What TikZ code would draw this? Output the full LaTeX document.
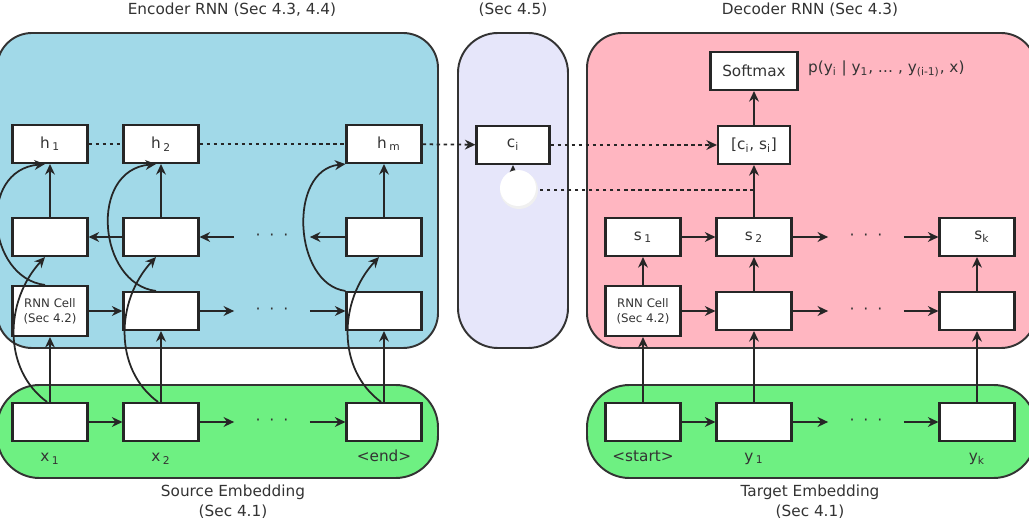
\documentclass[tikz,border=0pt]{standalone}
\usepackage{fontspec}
\setmainfont{DejaVu Sans}
\usetikzlibrary{arrows.meta}
\definecolor{encblue}{RGB}{161,217,232}
\definecolor{attlav}{RGB}{230,230,250}
\definecolor{decpink}{RGB}{255,182,193}
\definecolor{embgreen}{RGB}{110,240,130}
\tikzset{
  cell/.style={draw=black!85, line width=1.2pt, fill=white, minimum width=1.5cm,
    minimum height=0.76cm, inner sep=1pt, text=black!80, font=\fontsize{8.7}{10}\selectfont},
  rnncell/.style={cell, minimum height=1cm, align=center, font=\fontsize{6.7}{8.5}\selectfont},
  dots/.style={minimum width=1.5cm, inner sep=0pt, text=black!80, font=\fontsize{9}{10}\selectfont},
  lbl/.style={inner sep=1pt, text=black!80, font=\fontsize{8.7}{11.3}\selectfont, align=center},
  flow/.style={-{Stealth[length=6pt,width=5.6pt]}, line width=1pt, draw=black!85},
  att/.style={dash pattern=on 2pt off 2pt},
  region/.style={draw=black!80, line width=1.1pt, rounded corners=0.7cm},
}
\newcommand{\threedots}{\textperiodcentered\hspace{5pt}\textperiodcentered\hspace{5pt}\textperiodcentered}
\begin{document}
\begin{tikzpicture}[x=0.02cm,y=-0.02cm]
  \useasboundingbox (0,0) rectangle (1029,523);
  \clip (0,0) rectangle (1029,523);
  \fill[white] (0,0) rectangle (1029,523);
  % regions
  \draw[region,fill=encblue] (-3,33) rectangle (438,348);
  \draw[region,fill=attlav,rounded corners=0.8cm] (458,33) rectangle (568,348);
  \draw[region,fill=decpink] (587,33) rectangle (1036,348);
  \draw[region,fill=embgreen,rounded corners=0.85cm] (-3,385) rectangle (438,478);
  \draw[region,fill=embgreen,rounded corners=0.85cm] (587,385) rectangle (1036,478);
  % titles
  \node[lbl] (enctitle) at (232,10) {Encoder RNN (Sec 4.3, 4.4)};
  \node[lbl] (atttitle) at (513,10) {(Sec 4.5)};
  \node[lbl] (dectitle) at (810,10) {Decoder RNN (Sec 4.3)};
  \node[lbl] (srctitle) at (233,502) {Source Embedding\\(Sec 4.1)};
  \node[lbl] (tgttitle) at (810,502) {Target Embedding\\(Sec 4.1)};

  % encoder
  \node[cell] (h1) at (50,144) {h\,\textsubscript{1}};
  \node[cell] (h2) at (161,144) {h\,\textsubscript{2}};
  \node[cell] (hm) at (384,144) {\ \ h\,\textsubscript{m}};
  \node[cell] (b1) at (50,237) {};
  \node[cell] (b2) at (161,237) {};
  \node[cell] (b3) at (384,237) {};
  \node[dots] (bdots) at (272,237) {\threedots};
  \node[rnncell] (f1) at (50,311) {RNN Cell\\(Sec 4.2)};
  \node[cell] (f2) at (161,311) {};
  \node[cell] (f3) at (384,311) {};
  \node[dots] (fdots) at (272,311) {\threedots};
  \node[cell] (x1) at (50,422) {};
  \node[cell] (x2) at (161,422) {};
  \node[cell] (x3) at (384,422) {};
  \node[dots] (xdots) at (272,422) {\threedots};
  \node[lbl] (x1l) at (50,459) {x\,\textsubscript{1}};
  \node[lbl] (x2l) at (161,459) {x\,\textsubscript{2}};
  \node[lbl] (x3l) at (384,456) {<end>};

  % attention
  \node[cell, minimum width=1.46cm] (ci) at (513,145) {c\textsubscript{i}};

  % decoder
  \node[cell, minimum width=1.74cm] (soft) at (754,71) {Softmax};
  \node[lbl, anchor=west] (prob) at (806,69) {p(y\textsubscript{i} | y\textsubscript{1}, \dots\ , y\textsubscript{(i-1)}, x)};
  \node[cell, minimum width=1.44cm] (cs) at (754,145) {[c\textsubscript{i}, s\textsubscript{i}]};
  \node[cell] (s1) at (643,237) {s\,\textsubscript{1}};
  \node[cell] (s2) at (754,237) {s\,\textsubscript{2}};
  \node[cell] (sk) at (977,237) {\ \ s\textsubscript{k}};
  \node[dots] (sdots) at (866,237) {\threedots};
  \node[rnncell] (g1) at (643,311) {RNN Cell\\(Sec 4.2)};
  \node[cell] (g2) at (754,311) {};
  \node[cell] (g3) at (977,311) {};
  \node[dots] (gdots) at (866,311) {\threedots};
  \node[cell] (t1) at (643,422) {};
  \node[cell] (t2) at (754,422) {};
  \node[cell] (t3) at (977,422) {};
  \node[dots] (tdots) at (866,422) {\threedots};
  \node[lbl] (t1l) at (643,456) {<start>};
  \node[lbl] (t2l) at (754,459) {y\,\textsubscript{1}};
  \node[lbl] (t3l) at (977,459) {y\textsubscript{k}};

  % encoder connectors
  \draw[flow] (b2) -- (b1);
  \draw[flow] (bdots.west) -- (b2);
  \draw[flow] (b3) -- (bdots.east);
  \draw[flow] (f1) -- (f2);
  \draw[flow] (f2) -- (fdots.west);
  \draw[flow] (fdots.east) -- (f3);
  \draw[flow] (x1) -- (x2);
  \draw[flow] (x2) -- (xdots.west);
  \draw[flow] (xdots.east) -- (x3);
  \foreach \e/\f/\b/\h in {x1/f1/b1/h1, x2/f2/b2/h2, x3/f3/b3/hm} {
    \draw[flow] (\e) -- (\f);
    \draw[flow] (\b) -- (\h);
    \draw[flow] ([xshift=-0.06cm]\e.north) .. controls +(-45,-33) and +(-40,43) .. ([xshift=-0.1cm]\b.south);
  }
  \foreach \f/\h in {f1/h1, f2/h2} {
    \draw[flow] ([xshift=-0.1cm]\f.north) .. controls +(-58,-7) and +(-68,6) .. ([xshift=-0.1cm]\h.south);
  }
  \draw[flow] (f3.north west) .. controls +(-52,-7) and +(-58,6) .. (hm.south west);

  % decoder connectors
  \draw[flow] (s1) -- (s2);
  \draw[flow] (s2) -- (sdots.west);
  \draw[flow] (sdots.east) -- (sk);
  \draw[flow] (g1) -- (g2);
  \draw[flow] (g2) -- (gdots.west);
  \draw[flow] (gdots.east) -- (g3);
  \draw[flow] (t1) -- (t2);
  \draw[flow] (t2) -- (tdots.west);
  \draw[flow] (tdots.east) -- (t3);
  \foreach \t/\g/\s in {t1/g1/s1, t2/g2/s2, t3/g3/sk} {
    \draw[flow] (\t) -- (\g);
    \draw[flow] (\g) -- (\s);
  }
  \draw[flow] (s2) -- (cs);
  \draw[flow] (cs) -- (soft);

  % attention connectors
  \draw[flow,att,-] (h1) -- (h2);
  \draw[flow,att,-] (h2) -- (hm);
  \draw[flow,att] (hm) -- (ci);
  \draw[flow,att] (ci) -- (cs);
  \coordinate (tap) at (754,190);
  \draw[flow,att] (tap) -| (ci.south);
  \fill[black!6] (519,190) circle (0.38cm);
  \fill[white] (518,188) circle (0.36cm);
\end{tikzpicture}
\end{document}
